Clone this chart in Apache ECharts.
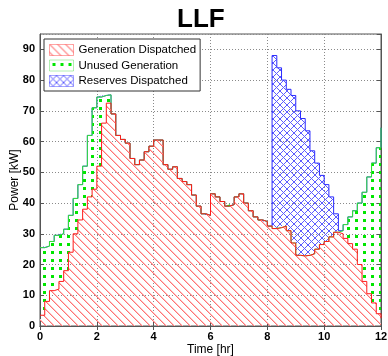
<!DOCTYPE html>
<html>
<head>
<meta charset="utf-8">
<script src="https://cdn.jsdelivr.net/npm/echarts@6/dist/echarts.min.js"></script>
<style>
  html, body { margin: 0; padding: 0; background: #fff; }
  #chart { width: 388px; height: 356px; }
</style>
</head>
<body>
<div id="chart"></div>
<script>
// Schedule sampled every 10 minutes (hours); the last entry closes the step at 12 h
const STEP_HR = 1 / 6;

// Power actually dispatched from generation [kW]
const dispatched = [
  3.5, 8, 11.5, 12, 14.5, 18, 24, 30, 34.5, 38,
  42, 44.5, 52, 66, 72.5, 69, 62, 60.7, 59.5, 54.5,
  52.5, 54, 56.7, 58.5, 60.5, 60.5, 52.5, 51, 51.8, 48,
  47, 46, 42.6, 39, 36.5, 36, 43, 42, 40.5, 39,
  39.5, 42, 43, 40, 37.5, 35.5, 34.5, 34, 32.5, 31.7,
  32, 32.5, 31, 27, 23, 22.8, 23, 23.5, 25, 26.5,
  27.5, 29, 30.5, 30, 28.5, 26.8, 25, 20, 14.5, 10.5,
  7.5, 4, 2.5
];

// Available generation that was not used [kW]
const unused = [
  22, 18, 16, 17.5, 15.5, 13.5, 12, 11.5, 11.5, 14,
  20, 26.5, 22.5, 9, 2.7, 0, 0, 0, 0, 0,
  0, 0, 0, 0, 0, 0, 0, 0, 0, 0,
  0, 0, 0, 0, 0, 0, 0, 0, 0, 0,
  0, 0, 0, 0, 0, 0, 0, 0, 0, 0,
  0, 0, 0, 0, 0, 0, 0, 0, 0, 0,
  0, 0, 0, 1, 4.5, 8.7, 12.5, 20, 29, 38,
  45.5, 54, 62
];

// Reserve power dispatched on top of generation [kW]
const reserves = [
  0, 0, 0, 0, 0, 0, 0, 0, 0, 0,
  0, 0, 0, 0, 0, 0, 0, 0, 0, 0,
  0, 0, 0, 0, 0, 0, 0, 0, 0, 0,
  0, 0, 0, 0, 0, 0, 0, 0, 0, 0,
  0, 0, 0, 0, 0, 0, 0, 0, 0, 56.3,
  52, 47.5, 46, 48, 47, 44.7, 40.5, 33.5, 28, 22.5,
  18.5, 13, 6, 0, 0, 0, 0, 0, 0, 0,
  0, 0, 0
];

// Time ticks every 2 h (every 12th sample), power ticks every 10 kW
const X_TICK_EVERY = 12;
const yTicks = { min: 0, max: 95, interval: 10 };

const seriesNames = ['Generation Dispatched', 'Unused Generation', 'Reserves Dispatched'];

// Fill patterns: diagonal hatch, dot grid, cross hatch
function makeTile(size, draw) {
  const c = document.createElement('canvas');
  c.width = size; c.height = size;
  draw(c.getContext('2d'), size);
  return { image: c, repeat: 'repeat' };
}
const hatchRed = makeTile(8, (g, n) => {
  for (let i = 0; i < n; i++) {
    g.fillStyle = '#ffc2c2'; g.fillRect((i + 1) % n, i, 1, 1);
    g.fillStyle = '#ff7373'; g.fillRect(i, i, 1, 1);
  }
});
const dotsGreen = makeTile(8, (g) => {
  g.fillStyle = '#00e600';
  g.fillRect(3, 3, 3, 3);
});
const crossBlue = makeTile(7, (g, n) => {
  g.fillStyle = '#5c5cff';
  for (let i = 0; i < n; i++) {
    g.fillRect(i, i, 1, 1);
    g.fillRect(n - 1 - i, i, 1, 1);
  }
});

const times = dispatched.map((_, i) => +(i * STEP_HR).toFixed(4));

const FONT = 'Liberation Sans, Arial, Helvetica, sans-serif';
const AX = '#555';
const everyTick = (i) => i % X_TICK_EVERY === 0;

function stepArea(name, values, lineColor, fill, z) {
  return {
    name, type: 'line', stack: 'power', step: 'end',
    data: values, symbol: 'none', showSymbol: false, z,
    lineStyle: { color: lineColor, width: 1 },
    itemStyle: { color: lineColor },
    areaStyle: { color: fill, opacity: 1 },
    emphasis: { disabled: true }, animation: false
  };
}

const chart = echarts.init(document.getElementById('chart'), null, { renderer: 'canvas' });
chart.setOption({
  animation: false,
  backgroundColor: '#fff',
  title: {
    text: 'LLF', left: 172, top: 2,
    textStyle: { fontFamily: FONT, fontSize: 26, fontWeight: 'bold', color: '#000' }
  },
  grid: {
    left: 40, right: 7, top: 34, bottom: 30,
    containLabel: false, outerBoundsMode: 'none',
    show: true, borderColor: AX, borderWidth: 1
  },
  legend: {
    orient: 'vertical', left: 44, top: 39,
    padding: [5, 4, 4, 5], itemGap: 3.5, itemWidth: 24, itemHeight: 11,
    backgroundColor: '#fff', borderColor: '#333', borderWidth: 1,
    textStyle: { fontFamily: FONT, fontSize: 11.5, color: '#000' },
    selectedMode: false,
    data: [
      { name: seriesNames[0], icon: 'rect', itemStyle: { color: hatchRed, borderColor: 'rgba(255,0,0,0.35)', borderWidth: 1 } },
      { name: seriesNames[1], icon: 'rect', itemStyle: { color: dotsGreen, borderColor: 'rgba(0,200,0,0.3)', borderWidth: 1 } },
      { name: seriesNames[2], icon: 'rect', itemStyle: { color: crossBlue, borderColor: 'rgba(0,0,255,0.35)', borderWidth: 1 } }
    ]
  },
  xAxis: [{
    type: 'category', data: times, boundaryGap: false,
    name: 'Time [hr]', nameLocation: 'middle', nameGap: 18, nameMoveOverlap: false,
    nameTextStyle: { fontFamily: FONT, fontSize: 12, color: '#000' },
    axisLine: { lineStyle: { color: AX } },
    axisTick: { inside: true, length: 4, interval: everyTick, lineStyle: { color: AX } },
    axisLabel: {
      interval: everyTick, formatter: v => String(Math.round(+v)),
      fontFamily: FONT, fontSize: 11, fontWeight: 'bold', color: '#000', margin: 5
    },
    splitLine: { show: true, interval: everyTick, lineStyle: { color: '#8a8a8a', type: [1, 2] } }
  }, {
    type: 'category', data: times, boundaryGap: false, position: 'top',
    axisLine: { lineStyle: { color: AX } },
    axisTick: { inside: true, length: 4, interval: everyTick, lineStyle: { color: AX } },
    axisLabel: { show: false }, splitLine: { show: false }
  }],
  yAxis: [{
    type: 'value', ...yTicks,
    name: 'Power [kW]', nameLocation: 'middle', nameGap: 19, nameMoveOverlap: false,
    nameTextStyle: { fontFamily: FONT, fontSize: 12, color: '#000' },
    axisLine: { show: true, lineStyle: { color: AX } },
    axisTick: { show: true, inside: true, length: 4, lineStyle: { color: AX } },
    axisLabel: { fontFamily: FONT, fontSize: 11, fontWeight: 'bold', color: '#000', margin: 5, showMaxLabel: false },
    splitLine: { show: true, lineStyle: { color: '#8a8a8a', type: [1, 2] } }
  }, {
    type: 'value', ...yTicks, position: 'right',
    axisLine: { show: true, lineStyle: { color: AX } },
    axisTick: { show: true, inside: true, length: 4, lineStyle: { color: AX } },
    axisLabel: { show: false }, splitLine: { show: false }
  }],
  series: [
    stepArea(seriesNames[0], dispatched, '#ff1a1a', hatchRed, 4),
    stepArea(seriesNames[1], unused, '#33e633', dotsGreen, 3),
    stepArea(seriesNames[2], reserves, '#2a2aff', crossBlue, 2)
  ]
});
</script>
</body>
</html>
